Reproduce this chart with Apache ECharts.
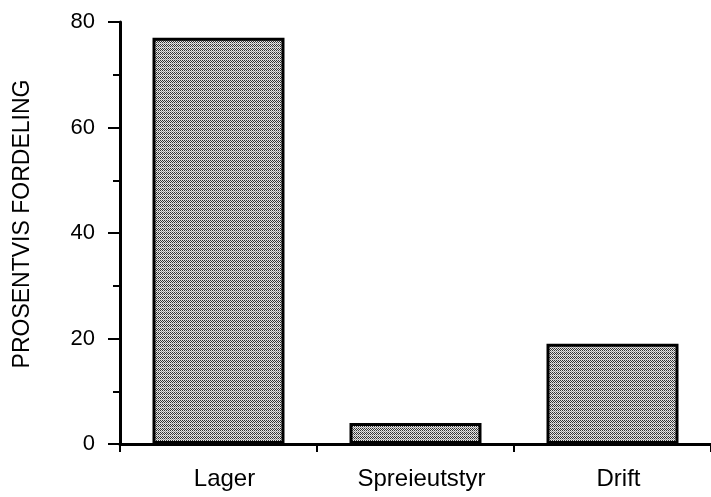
<!DOCTYPE html>
<html><head><meta charset="utf-8">
<script src="https://cdn.jsdelivr.net/npm/echarts@6/dist/echarts.min.js"></script>
<style>html,body{margin:0;padding:0;background:#fff}#c{width:711px;height:497px}</style>
</head><body><div id="c"></div>
<script>
const categories = ['Lager', 'Spreieutstyr', 'Drift'];
const values = [77, 4, 19];
const yTicks = [0, 20, 40, 60, 80];

function makePattern() {
  const c = document.createElement('canvas');
  c.width = 4; c.height = 4;
  const g = c.getContext('2d');
  g.fillStyle = '#e4e4e4'; g.fillRect(0, 0, 4, 4);
  g.fillStyle = '#333';
  g.fillRect(0, 0, 1, 1); g.fillRect(2, 0, 1, 1);
  g.fillRect(1, 1, 1, 1); g.fillRect(3, 1, 1, 1);
  g.fillRect(0, 2, 1, 1); g.fillRect(2, 2, 1, 1);
  g.fillStyle = '#999';
  g.fillRect(1, 3, 1, 1); g.fillRect(3, 3, 1, 1);
  return c;
}

const chart = echarts.init(document.getElementById('c'), null, {renderer: 'canvas'});
const font = 'Liberation Sans';
chart.setOption({
  animation: false,
  grid: {left: 120, right: -2, top: 22, bottom: 53, containLabel: false},
  xAxis: {
    type: 'category',
    data: categories,
    axisLine: {lineStyle: {color: '#000', width: 3}},
    axisTick: {show: true, alignWithLabel: false, length: 8, lineStyle: {color: '#000', width: 2}},
    axisLabel: {color: '#000', fontSize: 24, fontFamily: font, margin: 23, padding: [0, 0, 0, 12]}
  },
  yAxis: {
    type: 'value',
    min: yTicks[0], max: yTicks[yTicks.length - 1], interval: 20,
    name: 'PROSENTVIS FORDELING',
    nameLocation: 'middle',
    nameGap: 86,
    nameTextStyle: {color: '#000', fontSize: 23, fontFamily: font, padding: [0, 0, 0, 18]},
    axisLine: {show: true, lineStyle: {color: '#000', width: 3}},
    axisTick: {show: true, length: 12, lineStyle: {color: '#000', width: 2}},
    minorTick: {show: true, splitNumber: 2, length: 7, lineStyle: {color: '#000', width: 2}},
    splitLine: {show: false},
    axisLabel: {color: '#000', fontSize: 22, fontFamily: font, margin: 25}
  },
  series: [{
    type: 'bar',
    data: values,
    barWidth: '67%',
    itemStyle: {
      color: {image: makePattern(), repeat: 'repeat'},
      borderColor: '#000',
      borderWidth: 3
    }
  }]
});
</script></body></html>
